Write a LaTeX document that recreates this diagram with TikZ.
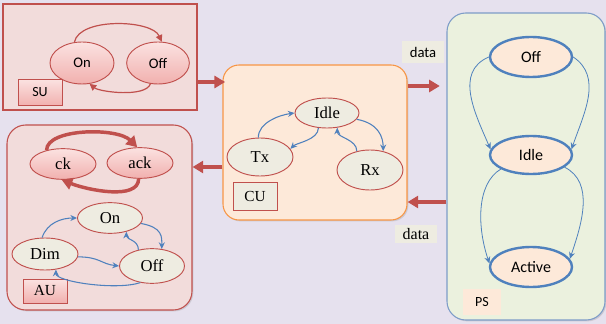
\documentclass[tikz,border=0pt]{standalone}
\usepackage{fontspec}
\setmainfont{Liberation Serif}
\newfontfamily\calibfont{Carlito}
\usetikzlibrary{shapes.geometric}
\usetikzlibrary{arrows.meta}
\usetikzlibrary{shadows}

\definecolor{bgcol}{HTML}{E6E1EE}
\definecolor{pinkfill}{HTML}{F2DCDB}
\definecolor{pinktop}{HTML}{FBE2E1}
\definecolor{pinkbot}{HTML}{F1B0AE}
\definecolor{redline}{HTML}{C0504D}
\definecolor{creamfill}{HTML}{EEECE1}
\definecolor{peachfill}{HTML}{FDE9D9}
\definecolor{orangeline}{HTML}{F79646}
\definecolor{greenfill}{HTML}{EBF1DE}
\definecolor{psline}{HTML}{7D9CC8}
\definecolor{blueline}{HTML}{4F81BD}

\tikzset{
	unitbox/.style={draw, inner sep=0pt, line width=0.8pt, drop shadow={opacity=0.25, shadow xshift=1pt, shadow yshift=-1pt}},
	pinkstate/.style={ellipse, draw=redline, line width=0.7pt, top color=pinktop, bottom color=pinkbot, inner sep=0pt},
	creamstate/.style={ellipse, draw=redline, line width=0.7pt, fill=creamfill, inner sep=0pt, font=\fontsize{12.5}{14}\selectfont},
	psstate/.style={ellipse, draw=blueline, line width=1.8pt, fill=peachfill, inner sep=0pt, minimum width=61.5pt, minimum height=30pt, font=\calibfont\fontsize{12}{14}\selectfont},
	tagbox/.style={inner sep=0pt, minimum width=33pt, minimum height=20pt},
	bluearr/.style={draw=blueline, line width=0.8pt, -{Stealth[length=5pt,width=4.5pt]}},
	redarr/.style={draw=redline, line width=3pt, -{Triangle[length=8pt,width=9pt]}},
}

\begin{document}
\begin{tikzpicture}[x=0.75pt,y=0.75pt,yscale=-1,xscale=1]
	\useasboundingbox (0,0) rectangle (606,324);
	\fill[bgcol] (0,0) rectangle (606,324);

	%Shape: Rectangle [SU]
	\node[unitbox, draw=redline, fill=pinkfill, minimum width=145.5pt, minimum height=79.5pt] (su) at (100,57) {};
	%Shape: Rounded Rectangle [AU]
	\node[unitbox, draw=redline, fill=pinkfill, rounded corners=14pt, minimum width=138.75pt, minimum height=138.75pt] (au) at (99.5,217.5) {};
	%Shape: Rounded Rectangle [CU]
	\node[unitbox, draw=orangeline, fill=peachfill, rounded corners=12pt, minimum width=138pt, minimum height=116.25pt] (cu) at (315,142.5) {};

	% Text Node
	\node[tagbox, fill=creamfill, minimum width=31pt, minimum height=16pt, font=\calibfont\fontsize{11}{12}\selectfont] (datatop) at (423,52) {data};
	% Text Node
	\node[tagbox, fill=creamfill, minimum width=32pt, minimum height=14pt, font=\fontsize{12}{13}\selectfont] (databot) at (416,234) {data};

	%Shape: Rounded Rectangle [PS]
	\node[unitbox, draw=psline, fill=greenfill, rounded corners=14pt, minimum width=118.5pt, minimum height=230.25pt] (ps) at (526,166.5) {};

	%SU states
	\node[pinkstate, minimum width=48pt, minimum height=31.5pt, font=\calibfont\fontsize{11}{13}\selectfont] (suon) at (82,63) {On};
	\node[pinkstate, minimum width=47pt, minimum height=31.5pt, font=\calibfont\fontsize{11}{13}\selectfont] (suoff) at (158,63) {Off};
	\node[tagbox, draw=redline, line width=0.7pt, top color=pinktop, bottom color=pinkbot, font=\calibfont\fontsize{10.5}{12}\selectfont] (sutag) at (40,92.5) {SU};

	\draw[redline, line width=0.9pt, -{Triangle[length=5pt,width=5pt]}] (suon.110) .. controls +(5,-25) and +(-10,-22) .. (suoff.80);
	\draw[redline, line width=0.9pt, -{Triangle[length=5pt,width=5pt]}] (suoff.-110) .. controls +(-5,14) and +(10,8) .. (suon.-70);

	%AU states
	\node[pinkstate, minimum width=49.5pt, minimum height=23pt, font=\fontsize{12.5}{14}\selectfont] (ck) at (63,164) {ck};
	\node[pinkstate, minimum width=49.5pt, minimum height=23pt, font=\fontsize{12.5}{14}\selectfont] (ack) at (140,163) {ack};
	\node[creamstate, minimum width=48.75pt, minimum height=23pt] (aon) at (110,218) {On};
	\node[creamstate, minimum width=49.5pt, minimum height=24pt] (dim) at (45,254) {Dim};
	\node[creamstate, minimum width=48.75pt, minimum height=26pt] (aoff) at (152,266) {Off};
	\node[tagbox, draw=redline, line width=0.7pt, top color=pinktop, bottom color=pinkbot, minimum height=18pt, font=\fontsize{11.5}{12}\selectfont] (autag) at (45,291) {AU};

	\draw[redline, line width=2.6pt, -{Triangle[length=8pt,width=9pt]}] (ck.140) .. controls +(0,-22) and +(-20,-20) .. (ack.100);
	\draw[redline, line width=2.6pt, -{Triangle[length=8pt,width=9pt]}] (ack.-95) .. controls +(0,22) and +(25,10) .. (ck.-95);

	\draw[bluearr] (dim.100) .. controls +(5,-15) and +(-15,0) .. (aon.180);
	\draw[bluearr] (aon.-10) .. controls +(22,4) and +(0,-12) .. (aoff.60);
	\draw[bluearr] (aoff.130) .. controls +(0,-10) and +(0,8) .. (aon.-40);
	\draw[bluearr] (dim.-5) .. controls +(22,0) and +(-18,-2) .. (aoff.180);
	\draw[bluearr] (aoff.-125) .. controls +(-25,8) and +(0,12) .. (dim.-55);

	%CU states
	\node[creamstate, minimum width=48pt, minimum height=22.5pt] (cidle) at (327,113) {Idle};
	\node[creamstate, minimum width=49.5pt, minimum height=28.5pt] (tx) at (260,157) {Tx};
	\node[creamstate, minimum width=49.5pt, minimum height=30pt] (rx) at (370,170) {Rx};
	\node[tagbox, draw=redline, line width=0.7pt, fill=creamfill, minimum height=21pt, font=\fontsize{11.5}{12}\selectfont] (cutag) at (255,196) {CU};

	\draw[bluearr] (tx.95) .. controls +(0,-15) and +(-15,2) .. (cidle.180);
	\draw[bluearr] (cidle.-120) .. controls +(0,12) and +(6,-6) .. (tx.15);
	\draw[bluearr] (rx.125) .. controls +(0,-12) and +(0,10) .. (cidle.-55);
	\draw[bluearr] (cidle.-12) .. controls +(22,4) and +(0,-14) .. (rx.55);

	%PS states
	\node[psstate] (poff) at (531,57) {Off};
	\node[psstate, minimum height=28.5pt] (pidle) at (531,155) {Idle};
	\node[psstate] (pact) at (531,267) {Active};
	\node[tagbox, fill=peachfill, minimum width=29pt, minimum height=19pt, font=\calibfont\fontsize{10.5}{12}\selectfont] (pstag) at (482,302) {PS};

	\draw[bluearr, line width=0.6pt] (poff.180) .. controls +(-35,15) and +(-15,-35) .. (pidle.172);
	\draw[bluearr, line width=0.6pt] (poff.0) .. controls +(30,20) and +(12,-35) .. (pidle.8);
	\draw[bluearr, line width=0.6pt] (pidle.-155) .. controls +(-25,15) and +(-12,-35) .. (pact.175);
	\draw[bluearr, line width=0.6pt] (pidle.-20) .. controls +(30,15) and +(12,-35) .. (pact.12);

	%Block arrows
	\draw[redarr] (su.east |- 0,82) -- ([xshift=2pt]cu.west |- 0,82);
	\draw[redarr] (cu.west |- 0,167) -- (au.east |- 0,167);
	\draw[redarr] (cu.east |- 0,86) -- ([xshift=-5pt]ps.west |- 0,86);
	\draw[redarr] (ps.west |- 0,202) -- (cu.east |- 0,202);

\end{tikzpicture}
\end{document}
